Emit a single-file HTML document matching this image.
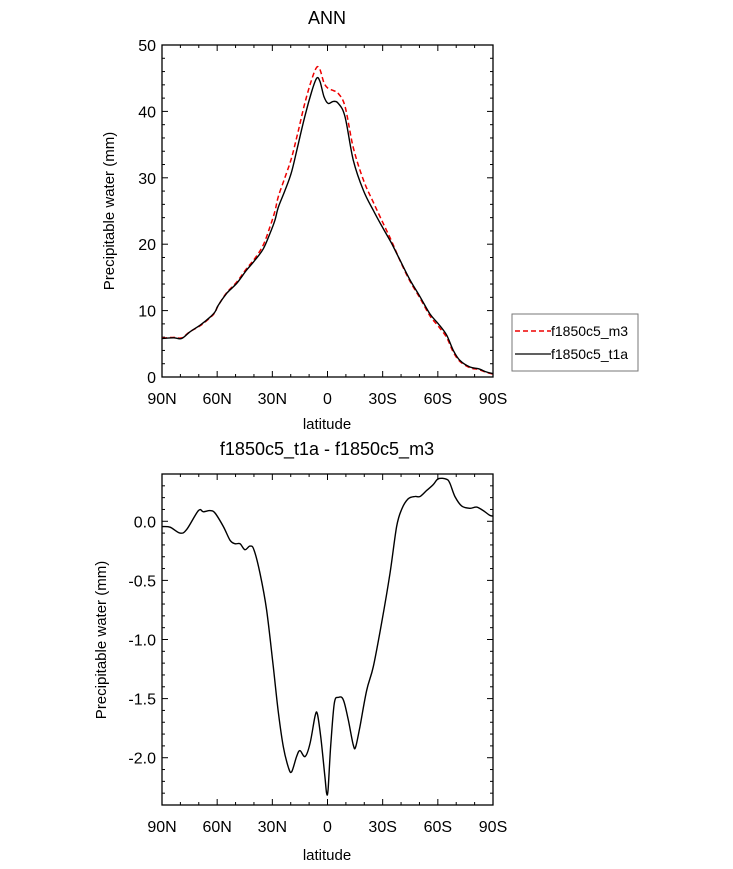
<!DOCTYPE html>
<html><head><meta charset="utf-8"><style>
body{margin:0;background:#fff}
svg{display:block;font-family:"Liberation Sans",sans-serif}
</style></head><body>
<svg id="s" width="733" height="869" xmlns="http://www.w3.org/2000/svg">
<rect width="733" height="869" fill="#fff"/>
<text x="327" y="24" font-size="18" text-anchor="middle">ANN</text>
<text x="327" y="455" font-size="18" text-anchor="middle">f1850c5_t1a - f1850c5_m3</text>
<text x="327" y="429" font-size="15" text-anchor="middle">latitude</text>
<text x="327" y="860" font-size="15" text-anchor="middle">latitude</text>
<text transform="translate(114,211) rotate(-90)" font-size="15" text-anchor="middle">Precipitable water (mm)</text>
<text transform="translate(106,640) rotate(-90)" font-size="15" text-anchor="middle">Precipitable water (mm)</text>
<rect x="512" y="314" width="126" height="57" fill="#fff" stroke="#777" stroke-width="1"/>
<line x1="515" y1="331" x2="551" y2="331" stroke="#e00" stroke-width="1.5" stroke-dasharray="5,3"/>
<line x1="515" y1="354" x2="551" y2="354" stroke="#000" stroke-width="1.2"/>
<text x="551" y="336" font-size="14">f1850c5_m3</text>
<text x="551" y="359" font-size="14">f1850c5_t1a</text>
<g id="g"></g>
</svg>
<script>
const g=document.getElementById('g');
let h='';
const X0=162,X1=493;
const lx=l=>X0+(90-l)*(X1-X0)/180;
function frame(yt,yb,vmin,vmax,major,minor,fmt){
  const vy=v=>yb-(v-vmin)*(yb-yt)/(vmax-vmin);
  h+=`<rect x="${X0}" y="${yt}" width="${X1-X0}" height="${yb-yt}" fill="none" stroke="#000" stroke-width="1.3"/>`;
  for(let l=90;l>=-90;l-=10){const x=lx(l),m=(l%30===0)?6:3;
    h+=`<line x1="${x}" y1="${yb}" x2="${x}" y2="${yb-m}" stroke="#000"/><line x1="${x}" y1="${yt}" x2="${x}" y2="${yt+m}" stroke="#000"/>`;
    if(l%30===0){const t=l>0?l+'N':l<0?(-l)+'S':'0';h+=`<text x="${x}" y="${yb+27}" font-size="16" text-anchor="middle">${t}</text>`;}}
  const n=Math.round((vmax-vmin)/minor);
  for(let i=0;i<=n;i++){const v=vmin+i*minor,y=vy(v);const isM=Math.abs(v/major-Math.round(v/major))<1e-6;const m=isM?6:3;
    h+=`<line x1="${X0}" y1="${y}" x2="${X0+m}" y2="${y}" stroke="#000"/><line x1="${X1}" y1="${y}" x2="${X1-m}" y2="${y}" stroke="#000"/>`;
    if(isM)h+=`<text x="${X0-6}" y="${y+6}" font-size="16" text-anchor="end">${fmt(v)}</text>`;}
  return vy;
}
const B=[[90,5.8],[83.8,5.9],[79.3,5.8],[74.8,6.8],[69.3,7.8],[63.9,9.0],[61.2,9.8],[59.4,10.8],[54.8,12.6],[49.4,14.1],[44,16.1],[39.4,17.6],[34.9,19.3],[31.3,21.6],[28.6,23.6],[26.7,25.6],[23.1,28.1],[19.5,30.9],[15.9,35.1],[12.2,39.4],[8.6,43],[5.9,45],[4.1,44.5],[1.9,42.2],[-0.3,41.2],[-3.2,41.5],[-5.9,41.2],[-9.5,39.2],[-14,32.7],[-19.5,28.1],[-24.9,25.1],[-30.4,22.3],[-34.9,20.1],[-39.4,17.6],[-44.9,14.6],[-50.3,12.1],[-55.7,9.5],[-60.3,8],[-64.8,6.3],[-68.4,4],[-72,2.5],[-77.5,1.5],[-82,1.25],[-86.5,0.75],[-90,0.5]];
const D=[[90,-0.045],[85.6,-0.05],[80.2,-0.1],[76.6,-0.07],[70.2,0.09],[67.5,0.08],[63.9,0.09],[61.2,0.07],[56.6,-0.045],[53,-0.16],[50.3,-0.19],[47.6,-0.19],[44.9,-0.24],[42.2,-0.21],[40,-0.24],[36.7,-0.44],[33.1,-0.75],[29.5,-1.23],[26.7,-1.62],[24,-1.91],[21.3,-2.08],[19.5,-2.12],[16.8,-1.99],[15,-1.94],[12.2,-1.99],[9.5,-1.88],[6.8,-1.65],[5.5,-1.63],[3.7,-1.82],[1.4,-2.16],[0.5,-2.3],[-0.3,-2.27],[-1.7,-1.91],[-3.7,-1.54],[-5.9,-1.49],[-8.6,-1.51],[-11.3,-1.68],[-14,-1.89],[-15.3,-1.91],[-17.6,-1.74],[-21.3,-1.43],[-24.9,-1.23],[-29.4,-0.86],[-34,-0.44],[-37.6,-0.045],[-40.3,0.1],[-43.9,0.19],[-47.6,0.21],[-50.3,0.21],[-53.9,0.26],[-57.5,0.31],[-60.3,0.36],[-64.8,0.355],[-66.6,0.32],[-69.3,0.21],[-72.9,0.13],[-77.5,0.11],[-81.1,0.12],[-84.7,0.09],[-88.3,0.05],[-90,0.045]];
function interp(A,l){for(let i=0;i<A.length-1;i++){const a=A[i],b=A[i+1];if(l<=a[0]&&l>=b[0]){const t=(a[0]-l)/(a[0]-b[0]||1);return a[1]+t*(b[1]-a[1]);}}return A[A.length-1][1];}
function path(P){let s='M'+P[0][0].toFixed(1)+','+P[0][1].toFixed(1);
  for(let i=0;i<P.length-1;i++){const p0=P[i-1]||P[i],p1=P[i],p2=P[i+1],p3=P[i+2]||p2;
    s+=` C${(p1[0]+(p2[0]-p0[0])/6).toFixed(1)},${(p1[1]+(p2[1]-p0[1])/6).toFixed(1)} ${(p2[0]-(p3[0]-p1[0])/6).toFixed(1)},${(p2[1]-(p3[1]-p1[1])/6).toFixed(1)} ${p2[0].toFixed(1)},${p2[1].toFixed(1)}`;}
  return s;}
const vy1=frame(45,377,0,50,10,2,v=>v.toFixed(0));
const red=B.map(p=>[lx(p[0]),vy1(p[1]-interp(D,p[0]))]);
const blk=B.map(p=>[lx(p[0]),vy1(p[1])]);
h+=`<path d="${path(red)}" fill="none" stroke="#e00" stroke-width="1.5" stroke-dasharray="5,3"/>`;
h+=`<path d="${path(blk)}" fill="none" stroke="#000" stroke-width="1.4"/>`;
const vy2=frame(474,805,-2.4,0.4,0.5,0.1,v=>v.toFixed(1));
h+=`<path d="${path(D.map(p=>[lx(p[0]),vy2(p[1])]))}" fill="none" stroke="#000" stroke-width="1.4"/>`;
g.innerHTML=h;
</script>
</body></html>
